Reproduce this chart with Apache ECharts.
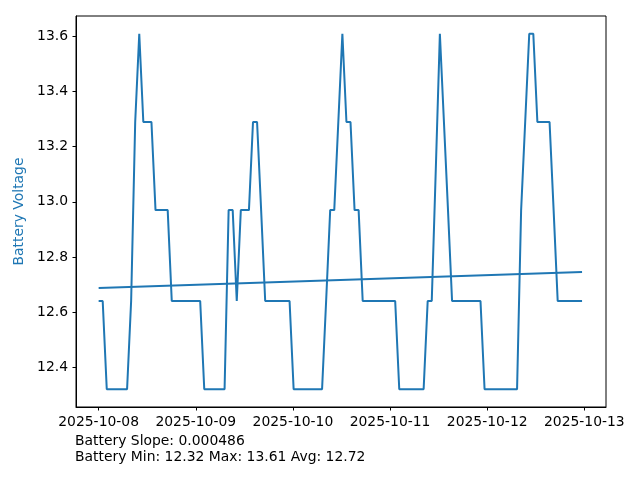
<!DOCTYPE html>
<html>
<head>
<meta charset="utf-8">
<script src="https://cdn.jsdelivr.net/npm/echarts@6/dist/echarts.min.js"></script>
<style>
html,body{margin:0;padding:0;background:#fff;}
#chart{width:640px;height:480px;}
</style>
</head>
<body>
<div id="chart"></div>
<script>
// ---- data ----
const startTime = '2025-10-08T00:00:00Z';
const stepMinutes = 60.22;
const voltage = [
  12.64,12.64,12.32,12.32,12.32,12.32,12.32,12.32,12.64,13.29,
  13.61,13.29,13.29,13.29,12.97,12.97,12.97,12.97,12.64,12.64,
  12.64,12.64,12.64,12.64,12.64,12.64,12.32,12.32,12.32,12.32,
  12.32,12.32,12.97,12.97,12.64,12.97,12.97,12.97,13.29,13.29,
  12.97,12.64,12.64,12.64,12.64,12.64,12.64,12.64,12.32,12.32,
  12.32,12.32,12.32,12.32,12.32,12.32,12.64,12.97,12.97,13.29,
  13.61,13.29,13.29,12.97,12.97,12.64,12.64,12.64,12.64,12.64,
  12.64,12.64,12.64,12.64,12.32,12.32,12.32,12.32,12.32,12.32,
  12.32,12.64,12.64,13.12,13.61,13.29,12.97,12.64,12.64,12.64,
  12.64,12.64,12.64,12.64,12.64,12.32,12.32,12.32,12.32,12.32,
  12.32,12.32,12.32,12.32,12.97,13.29,13.61,13.61,13.29,13.29,
  13.29,13.29,12.97,12.64,12.64,12.64,12.64,12.64,12.64,12.64
];
const trendValues = [12.687, 12.745]; // trend line at first and last sample
const xTickLabels = ['2025-10-08','2025-10-09','2025-10-10','2025-10-11','2025-10-12','2025-10-13'];
const yTickValues = [12.4, 12.6, 12.8, 13.0, 13.2, 13.4, 13.6];
const statsLines = ['Battery Slope: 0.000486', 'Battery Min: 12.32 Max: 13.61 Avg: 12.72'];
const yLabel = 'Battery Voltage';

// ---- build ----
const t0 = Date.parse(startTime);
const stepMs = stepMinutes * 60000;
const times = voltage.map((_, i) => t0 + i * stepMs);
const seriesData = voltage.map((v, i) => [times[i], v]);
const tFirst = times[0], tLast = times[times.length - 1];
const trendData = [[tFirst, trendValues[0]], [tLast, trendValues[1]]];
const xTicks = xTickLabels.map(s => Date.parse(s + 'T00:00:00Z'));
const DAY = 86400000;

const vMin = Math.min(...voltage), vMax = Math.max(...voltage);
const yPad = (vMax - vMin) * 0.05;

const color = '#1f77b4';
const font = 'DejaVu Sans';
const fs = 13.9;

function fmtDate(v) {
  const d = new Date(v);
  const mm = String(d.getUTCMonth() + 1).padStart(2, '0');
  const dd = String(d.getUTCDate()).padStart(2, '0');
  return d.getUTCFullYear() + '-' + mm + '-' + dd;
}

const chart = echarts.init(document.getElementById('chart'), null, {renderer: 'canvas'});
chart.setOption({
  animation: false,
  backgroundColor: '#fff',
  grid: {left: 76, right: 34, top: 16, bottom: 73, show: true, borderColor: '#000', borderWidth: 1, backgroundColor: 'transparent'},
  xAxis: {
    type: 'value',
    min: t0 - 0.233 * DAY,
    max: t0 + 5.223 * DAY,
    axisLine: {show: true, onZero: false, lineStyle: {color: '#000', width: 1}},
    axisTick: {show: true, length: 3.5, lineStyle: {color: '#000', width: 1}, customValues: xTicks},
    axisLabel: {
      color: '#000', fontFamily: font, fontSize: fs, margin: 8,
      customValues: xTicks,
      formatter: fmtDate
    },
    splitLine: {show: false}
  },
  yAxis: {
    type: 'value',
    min: vMin - yPad,
    max: vMax + yPad,
    name: yLabel,
    nameLocation: 'middle',
    nameGap: 47,
    nameTextStyle: {color: color, fontFamily: font, fontSize: fs},
    axisLine: {show: true, onZero: false, lineStyle: {color: '#000', width: 1}},
    axisTick: {show: true, length: 3.5, lineStyle: {color: '#000', width: 1}, customValues: yTickValues},
    axisLabel: {
      color: '#000', fontFamily: font, fontSize: fs, margin: 8,
      customValues: yTickValues,
      formatter: v => v.toFixed(1)
    },
    splitLine: {show: false}
  },
  series: [
    {type: 'line', data: seriesData, showSymbol: false, lineStyle: {color: color, width: 2}, itemStyle: {color: color}},
    {type: 'line', data: trendData, showSymbol: false, lineStyle: {color: color, width: 2}, itemStyle: {color: color}}
  ],
  graphic: [
    {type: 'text', left: 75, top: 433, style: {text: statsLines.join('\n'), font: fs + 'px "DejaVu Sans"', fill: '#000', lineHeight: 16}}
  ]
});
</script>
</body>
</html>
